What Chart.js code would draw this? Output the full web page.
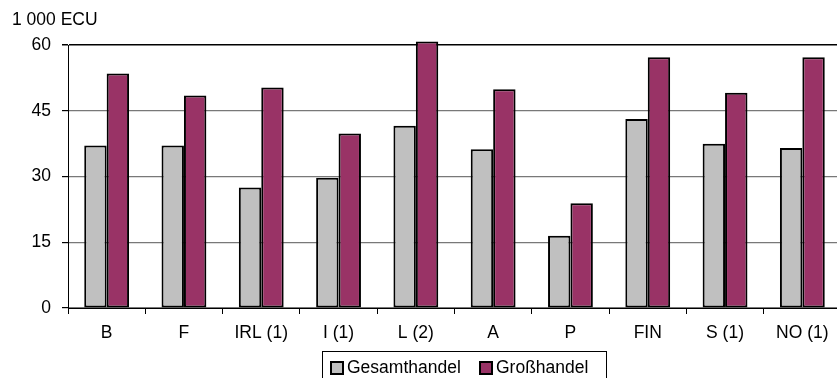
<!DOCTYPE html>
<html>
<head>
<meta charset="utf-8">
<script src="https://cdn.jsdelivr.net/npm/chart.js@4/dist/chart.umd.min.js"></script>
<style>
  html, body { margin: 0; padding: 0; background: #fff; overflow: hidden; width: 837px; height: 378px; }
  #wrap { position: relative; width: 842px; height: 378px; }
  canvas { position: absolute; left: 0; top: 0; }
  .unit { position: absolute; left: 12px; top: 9px; font: 17.5px "Liberation Sans", Arial, sans-serif; color: #000; line-height: 20px; white-space: nowrap; }
  .legend { position: absolute; left: 322px; top: 351px; width: 285px; height: 40px; border: 1px solid #000; box-sizing: border-box; font: 17.5px "Liberation Sans", Arial, sans-serif; color: #000; white-space: nowrap; }
  .item { position: absolute; top: 5px; line-height: 20px; }
  .sw { position: absolute; top: 9px; width: 10px; height: 10px; border: 2px solid #000; }
</style>
</head>
<body>
<script>
const categories = ["B", "F", "IRL (1)", "I (1)", "L (2)", "A", "P", "FIN", "S (1)", "NO (1)"];
const seriesNames = ["Gesamthandel", "Großhandel"];
const gesamthandel = [37.1, 37.1, 27.5, 29.7, 41.6, 36.2, 16.5, 43.1, 37.5, 36.5];
const grosshandel = [53.5, 48.5, 50.3, 39.8, 60.8, 49.9, 23.9, 57.2, 49.1, 57.2];
const yTicks = [0, 15, 30, 45, 60];
const unitLabel = "1 000 ECU";
</script>
<div id="wrap">
  <canvas id="c" width="842" height="378"></canvas>
  <div class="unit" id="unit"></div>
  <div class="legend">
    <span class="sw" style="left:7px; background:#C0C0C0;"></span>
    <span class="item" style="left:24px;" id="l1"></span>
    <span class="sw" style="left:156px; background:#993366;"></span>
    <span class="item" style="left:173px;" id="l2"></span>
  </div>
</div>
<script>
document.getElementById('unit').textContent = unitLabel;
document.getElementById('l1').textContent = seriesNames[0];
document.getElementById('l2').textContent = seriesNames[1];

const FONT = { family: '"Liberation Sans", Arial, sans-serif', size: 17.5 };

new Chart(document.getElementById('c'), {
  type: 'bar',
  data: {
    labels: categories,
    datasets: [
      { label: seriesNames[0], data: gesamthandel, backgroundColor: '#C0C0C0', borderColor: '#000', borderWidth: 2, borderSkipped: false, clip: false },
      { label: seriesNames[1], data: grosshandel, backgroundColor: '#993366', borderColor: '#000', borderWidth: 2, borderSkipped: false, clip: false }
    ]
  },
  options: {
    responsive: false,
    animation: false,
    devicePixelRatio: 1,
    layout: { padding: { top: 45, left: 0, right: 1, bottom: 0 } },
    plugins: { legend: { display: false }, tooltip: { enabled: false }, title: { display: false } },
    datasets: { bar: { categoryPercentage: 0.58, barPercentage: 1.0 } },
    scales: {
      x: {
        grid: { display: true, drawOnChartArea: false, drawTicks: true, tickLength: 6, color: '#000', tickColor: '#000', offset: true },
        border: { display: true, color: '#000', width: 1 },
        ticks: { color: '#000', font: FONT, padding: 9, maxRotation: 0, autoSkip: false },
        afterFit: s => { s.height = 70; }
      },
      y: {
        min: 0, max: 60,
        afterBuildTicks: s => { s.ticks = yTicks.map(v => ({ value: v })); },
        grid: {
          color: ctx => (ctx.tick && ctx.tick.value === 60) ? '#000' : '#787878',
          tickColor: '#000', tickLength: 6,
          lineWidth: ctx => (ctx.tick && ctx.tick.value === 60) ? 1.5 : 1.2
        },
        border: { display: true, color: '#000', width: 1 },
        ticks: { color: '#000', font: FONT, padding: 11 },
        afterFit: s => { s.width = 68; }
      }
    }
  }
});
</script>
</body>
</html>
